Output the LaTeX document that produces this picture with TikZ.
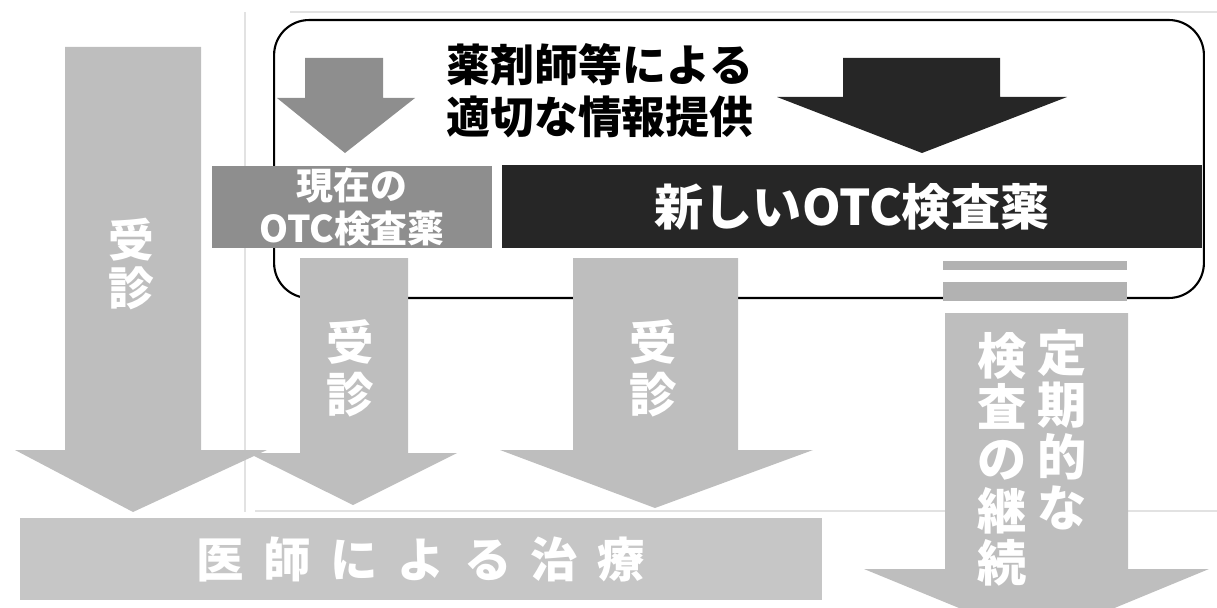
\documentclass[tikz,border=0pt]{standalone}
\usepackage{fontspec}
\newfontfamily\jp{Noto Sans CJK JP}
\definecolor{lgray}{HTML}{BEBEBE}
\definecolor{mgray}{HTML}{8E8E8E}
\definecolor{dgray}{HTML}{262626}
\definecolor{bargray}{HTML}{C6C6C6}
\definecolor{stripgray}{HTML}{B2B2B2}
\definecolor{faint}{HTML}{E2E2E2}
\tikzset{
  blockfill/.style={fill=#1, draw=none},
  boxnode/.style={fill=#1, draw=none, inner sep=0pt, text=white, align=center},
  wlabel/.style={text=white, inner sep=0pt, align=center},
  faintline/.style={draw=faint, line width=0.6pt},
}
\begin{document}
\begin{tikzpicture}[x=0.02cm,y=-0.02cm]
\useasboundingbox (0,0) rectangle (1217,608);
\begin{scope}
\clip (0,0) rectangle (1217,608);
% faint ruled lines
\coordinate (vt) at (245,12);
\coordinate (vb) at (245,512);
\draw[faintline] (vt) -- (vb);
\coordinate (ht1) at (290,12);
\coordinate (ht2) at (1217,12);
\draw[faintline] (ht1) -- (ht2);
\coordinate (hb1) at (255,511);
\coordinate (hb2) at (1217,511);
\draw[faintline] (hb1) -- (hb2);

% rounded frame
\node[draw=black, line width=1.2pt, rounded corners=0.7cm, minimum width=18.6cm, minimum height=5.56cm, inner sep=0pt] (frame) at (739,159) {};

% left big arrow
\fill[blockfill=lgray] (65,47) -- (201,47) -- (201,450) -- (267,450) -- (133,512) -- (15,450) -- (65,450) -- cycle;
\node[wlabel, font=\jp\bfseries\fontsize{26}{27.5}\selectfont] (j1) at (131,264) {受\\診};

% small medium-gray arrow
\fill[blockfill=mgray] (305,58) -- (383,58) -- (383,98) -- (415,98) -- (345,153) -- (277,98) -- (305,98) -- cycle;

% dark arrow
\fill[blockfill=dgray] (843,58) -- (1000,58) -- (1000,97) -- (1067,97) -- (922,153) -- (777,97) -- (843,97) -- cycle;

% heading
\node[inner sep=0pt, align=center, text=black, font=\jp\bfseries\fontsize{25}{29.5}\selectfont] (head) at (600,91) {薬剤師等による\\適切な情報提供};

% boxes
\node[boxnode=mgray, minimum width=5.6cm, minimum height=1.64cm, font=\jp\bfseries\fontsize{21}{24}\selectfont] (cur) at (352,207) {現在の\\OTC検査薬};
\node[boxnode=dgray, minimum width=14cm, minimum height=1.66cm, font=\jp\bfseries\fontsize{28}{30}\selectfont] (new) at (852,206.5) {新しいOTC検査薬};

% arrow 2
\fill[blockfill=lgray] (300,258) -- (408,258) -- (408,453) -- (457,453) -- (353,505) -- (248,453) -- (300,453) -- cycle;
\node[wlabel, font=\jp\bfseries\fontsize{27}{29.5}\selectfont] (j2) at (350,368) {受\\診};

% arrow 3
\fill[blockfill=lgray] (573,258) -- (738,258) -- (738,450) -- (813,450) -- (655,508) -- (500,450) -- (573,450) -- cycle;
\node[wlabel, font=\jp\bfseries\fontsize{27}{29.5}\selectfont] (j3) at (653,368) {受\\診};

% gray strips
\node[fill=stripgray, minimum width=3.68cm, minimum height=0.18cm, inner sep=0pt] (s1) at (1035,265) {};
\node[fill=stripgray, minimum width=3.68cm, minimum height=0.38cm, inner sep=0pt] (s2) at (1035,291.5) {};

% right arrow
\fill[blockfill=lgray] (945,313) -- (1128,313) -- (1128,569) -- (1209,569) -- (1037,640) -- (864,569) -- (945,569) -- cycle;
\node[wlabel, font=\jp\bfseries\fontsize{28}{29.5}\selectfont] (r1) at (1062,430) {定\\期\\的\\な};
\node[wlabel, font=\jp\bfseries\fontsize{28}{29.5}\selectfont] (r2) at (1002,459) {検\\査\\の\\継\\続};

% bottom bar
\node[boxnode=bargray, minimum width=16.04cm, minimum height=1.64cm, font=\jp\bfseries\fontsize{27}{29}\selectfont] (doc) at (421,559) {医\hspace{11pt}師\hspace{11pt}に\hspace{11pt}よ\hspace{11pt}る\hspace{11pt}治\hspace{11pt}療};
\end{scope}
\end{tikzpicture}
\end{document}
